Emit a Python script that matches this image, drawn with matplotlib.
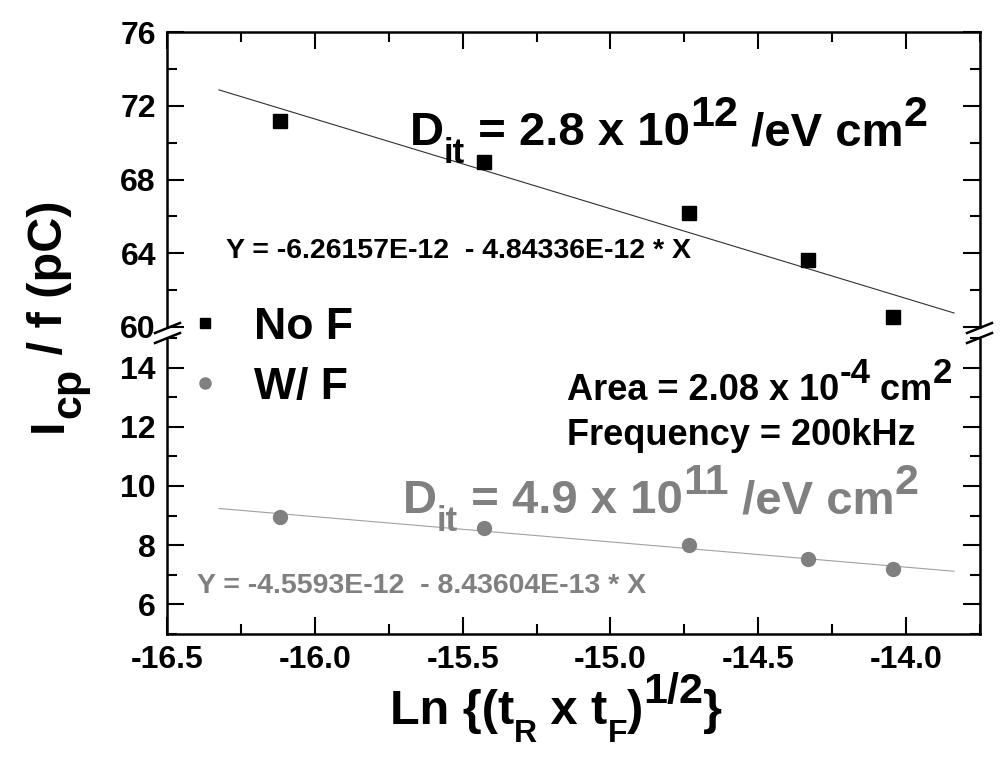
import matplotlib
matplotlib.use('Agg')
import matplotlib.pyplot as plt
from matplotlib.lines import Line2D
from matplotlib.ticker import MultipleLocator

# values
x_vals = [-16.118, -15.429, -14.733, -14.331, -14.044]
icp_no_f = [71.19, 68.97, 66.16, 63.62, 60.54]
icp_w_f = [8.94, 8.57, 8.00, 7.52, 7.19]
fit_x = [-16.324, -13.838]
fit_no_f = [72.86, 60.76]
fit_w_f = [9.24, 7.12]
x_ticks = [-16.5, -16.0, -15.5, -15.0, -14.5, -14.0]
top_ticks = [60, 64, 68, 72, 76]
bot_ticks = [6, 8, 10, 12, 14]

W, H = 1000, 757
GRAY = '#808080'

plt.rcParams['font.family'] = ['Liberation Sans', 'DejaVu Sans']
plt.rcParams['font.weight'] = 'bold'

fig = plt.figure(figsize=(10, 7.57), dpi=100)


def px_axes(left, top, right, bottom):
    return fig.add_axes([left / W, 1 - bottom / H, (right - left) / W, (bottom - top) / H])


ax_top = px_axes(167, 32, 980, 327)
ax_bot = px_axes(167, 338, 980, 634)

for ax in (ax_top, ax_bot):
    for sp in ax.spines.values():
        sp.set_linewidth(1.8)
    ax.set_xlim(-16.5, -13.75)
    ax.set_xticks(x_ticks)
    ax.xaxis.set_minor_locator(MultipleLocator(0.25))
    ax.tick_params(which='both', direction='in', width=1.5, left=True, right=True,
                   labelsize=23, pad=8)
    ax.tick_params(which='major', length=12)
    ax.tick_params(which='minor', length=7)

ax_top.spines['bottom'].set_visible(False)
ax_top.tick_params(axis='x', which='both', bottom=False, top=True, labelbottom=False)
ax_top.set_ylim(60, 76)
ax_top.set_yticks(top_ticks)
ax_top.yaxis.set_minor_locator(MultipleLocator(2))

ax_bot.spines['top'].set_visible(False)
ax_bot.tick_params(axis='x', which='both', top=False, bottom=True)
ax_bot.set_ylim(5, 15)
ax_bot.set_yticks(bot_ticks)
ax_bot.yaxis.set_minor_locator(MultipleLocator(1))
ax_bot.set_xticklabels(['%.1f' % v for v in x_ticks])

ax_top.plot(fit_x, fit_no_f, color='#303030', lw=0.8)
sq, = ax_top.plot(x_vals, icp_no_f, 's', color='black', ms=9.5, label='No F', clip_on=False)
ax_bot.plot(fit_x, fit_w_f, color='#a0a0a0', lw=0.8)
ci, = ax_bot.plot(x_vals, icp_w_f, 'o', color=GRAY, ms=10, label='W/ F')

# axis break marks
for xa in (155, 967):
    for ya in (333, 343):
        fig.add_artist(Line2D([xa / W, (xa + 25) / W], [1 - ya / H, 1 - (ya - 10) / H],
                              color='black', lw=1.8))

fig.legend(handles=[sq, ci], loc='upper left', bbox_to_anchor=(183 / W, 1 - 307 / H),
           frameon=False, prop={'size': 32, 'weight': 'bold'}, handlelength=1.0,
           handletextpad=0.6, labelspacing=0.42, borderpad=0, borderaxespad=0,
           markerscale=0.8)

renderer = fig.canvas.get_renderer()


def rich(x, y, parts, color='black', rotation=0):
    # parts: (text, size, shift px up)
    for s, size, shift in parts:
        if rotation == 0:
            t = fig.text(x / W, 1 - (y - shift) / H, s, fontsize=size, color=color,
                         ha='left', va='baseline')
            x += t.get_window_extent(renderer).width
        else:
            t = fig.text((x - shift) / W, 1 - y / H, s, fontsize=size, color=color,
                         rotation=90, rotation_mode='anchor', ha='left', va='baseline')
            y -= t.get_window_extent(renderer).height


rich(410, 145, [('D', 34, 0), ('it', 25, -18), (' = 2.8 x 10', 34, 0), ('12', 31, 19),
                (' /eV cm', 34, 0), ('2', 31, 19)])
rich(403, 513, [('D', 34, 0), ('it', 25, -18), (' = 4.9 x 10', 34, 0), ('11', 31, 19),
                (' /eV cm', 34, 0), ('2', 31, 19)], color=GRAY)
rich(567, 400, [('Area = 2.08 x 10', 26, 0), ('-4', 25, 17), (' cm', 26, 0), ('2', 25, 17)])
fig.text(567 / W, 1 - 445 / H, 'Frequency = 200kHz', fontsize=26, va='baseline')
fig.text(226 / W, 1 - 258 / H, 'Y = -6.26157E-12  - 4.84336E-12 * X', fontsize=20.5,
         va='baseline')
fig.text(197 / W, 1 - 593 / H, 'Y = -4.5593E-12  - 8.43604E-13 * X', fontsize=20.5,
         va='baseline', color=GRAY)

rich(390, 724, [('Ln {(t', 35, 0), ('R', 23, -18), (' x t', 35, 0), ('F', 23, -18),
                (')', 35, 0), ('1/2', 31, 21), ('}', 35, 0)])
rich(62, 432, [('I', 35, 0), ('cp', 31, -18), (' / f (pC)', 35, 0)], rotation=90)

fig.savefig('out.png', dpi=100)
